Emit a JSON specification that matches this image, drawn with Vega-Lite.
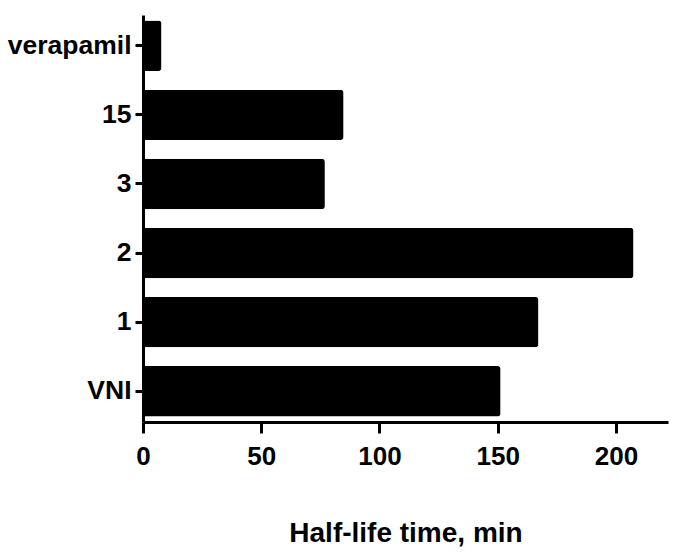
{
  "$schema": "https://vega.github.io/schema/vega-lite/v6.json",
  "autosize": {"type": "none"},
  "padding": {"left": 143, "top": 15, "right": 7, "bottom": 133},
  "width": 525,
  "height": 407,
  "background": "white",
  "config": {
    "view": {"stroke": null},
    "font": "Liberation Sans"
  },
  "data": {
    "values": [
      {"group": "verapamil", "halflife": 7.8},
      {"group": "15", "halflife": 84.8},
      {"group": "3", "halflife": 76.9},
      {"group": "2", "halflife": 207.4},
      {"group": "1", "halflife": 167.2},
      {"group": "VNI", "halflife": 151.2}
    ]
  },
  "mark": {"type": "bar", "color": "black", "cornerRadiusEnd": 3},
  "encoding": {
    "y": {
      "field": "group",
      "type": "nominal",
      "sort": ["verapamil", "15", "3", "2", "1", "VNI"],
      "scale": {"paddingInner": 0.27, "paddingOuter": 0.08},
      "axis": {
        "title": null,
        "domainColor": "black",
        "domainWidth": 3,
        "tickColor": "black",
        "tickWidth": 3,
        "tickSize": 8,
        "labelPadding": 4,
        "labelFont": "Liberation Sans",
        "labelFontWeight": "bold",
        "labelFontSize": 26.5,
        "labelColor": "black"
      }
    },
    "x": {
      "field": "halflife",
      "type": "quantitative",
      "scale": {"domain": [0, 222], "nice": false},
      "axis": {
        "values": [0, 50, 100, 150, 200],
        "grid": false,
        "title": "Half-life time, min",
        "titleFont": "Liberation Sans",
        "titleFontWeight": "bold",
        "titleFontSize": 28,
        "titleColor": "black",
        "titlePadding": 50,
        "domainColor": "black",
        "domainWidth": 3,
        "tickColor": "black",
        "tickWidth": 3,
        "tickSize": 11,
        "labelPadding": 10,
        "labelFont": "Liberation Sans",
        "labelFontWeight": "bold",
        "labelFontSize": 26,
        "labelColor": "black",
        "labelFlush": false
      }
    }
  }
}
